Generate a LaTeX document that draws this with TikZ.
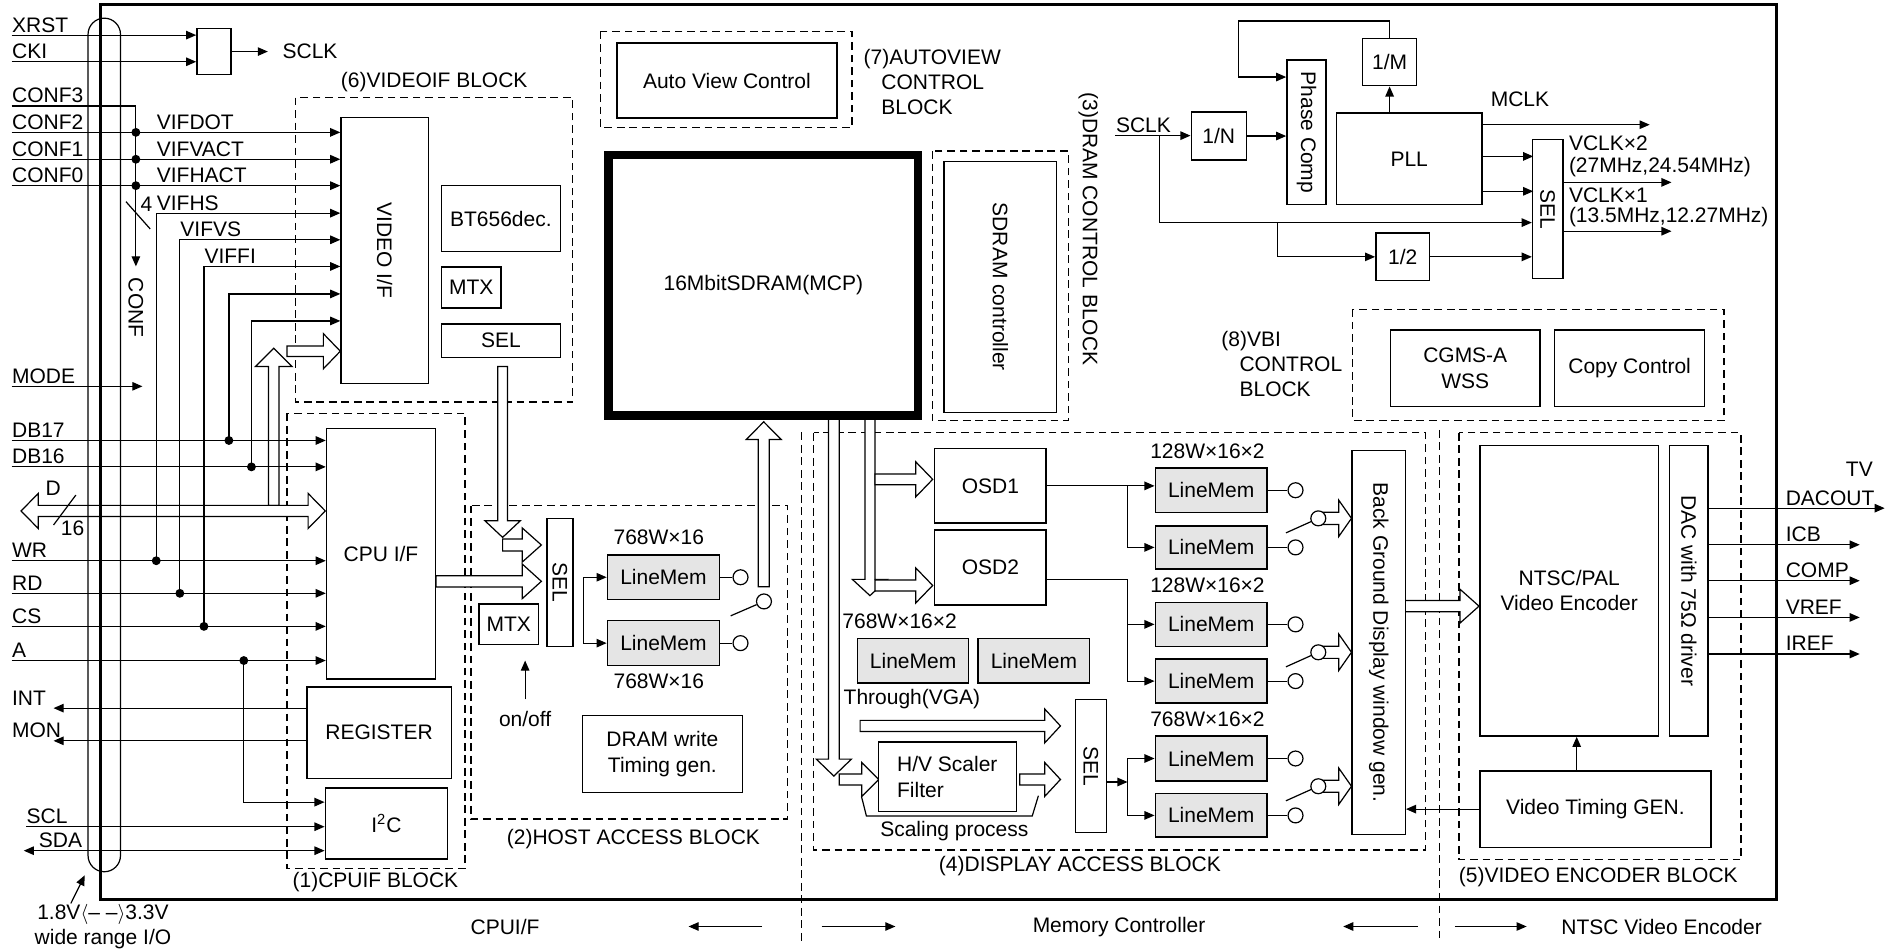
\documentclass[tikz,border=0pt]{standalone}
\usepackage{fontspec}
\setmainfont{Liberation Sans}
\usetikzlibrary{arrows.meta, calc, positioning}
\tikzset{
  % thin signal wires with small solid heads
  every picture/.append style = {line width=0.6pt, >={Triangle[length=5pt, width=4.2pt]}},
  span/.style args  = {#1/#2/#3/#4}{at={(#1,#2)}, anchor=north west,
                       minimum width={(#3-#1)*0.6pt}, minimum height={(#4-#2)*0.6pt}},
  box/.style        = {draw, line width=0.7pt, fill=white, inner sep=0pt, align=center},
  lmem/.style       = {box, fill=black!10},
  port/.style       = {circle, draw, fill=white, inner sep=0pt, minimum size=7.4pt},
  jdot/.style       = {circle, fill=black, inner sep=0pt, minimum size=4.4pt},
  sig/.style        = {anchor=south west, inner xsep=0pt, inner ysep=1.2pt, text depth=0pt},
  lbl/.style        = {inner sep=0pt, align=center},
  blockline/.style  = {line width=0.6pt, dash pattern=on 3.8pt off 2.4pt},
  fatline/.style    = {draw, fill=white, line width=0.6pt},
  % hollow bus arrow: length, head length, head half width, shaft half width
  pics/fat/.style n args = {4}{code={
    \path[fatline] (0,-#4) -- (#1-#2,-#4) -- (#1-#2,-#3) -- (#1,0)
      -- (#1-#2,#3) -- (#1-#2,#4) -- (0,#4) -- cycle;}},
}
\begin{document}
\begin{tikzpicture}[x=0.6pt, y=-0.6pt, font=\fontsize{10.4}{12.6}\selectfont]
  \useasboundingbox (0,0) rectangle (1568,786);

  % functional block outlines
  \draw[blockline] (237,341.3) rectangle (384,717);          % (1)
  \draw[blockline] (388.9,417.5) rectangle (650.4,676.2);    % (2)
  \draw[blockline] (769.7,124.7) rectangle (882,347.3);      % (3)
  \draw[blockline] (671.9,357.4) rectangle (1176.8,701.8);   % (4)
  \draw[blockline] (1204.7,357.4) rectangle (1437.5,710);    % (5)
  \draw[blockline] (244,80.6) rectangle (473,332);           % (6)
  \draw[blockline] (495.8,26) rectangle (703.4,105.4);       % (7)
  \draw[blockline] (1116.8,255.4) rectangle (1423.5,347.3);  % (8)
  \draw[blockline] (661.9,357) -- (661.9,778);
  \draw[blockline] (1188.5,355) -- (1188.5,778);

  % wide data paths
  \pic[rotate=90] at (226,417.3) {fat={129.7}{15}{15}{4.3}};
  \pic at (237,290) {fat={44}{14}{14.5}{4.3}};
  \path[fatline] (17.4,421.9) -- (31.6,407.4) -- (31.6,417.3) -- (254.4,417.3) -- (254.4,407.4)
    -- (268.6,421.9) -- (254.4,436.4) -- (254.4,426.5) -- (31.6,426.5) -- (31.6,436.4) -- cycle;
  \pic at (360,480) {fat={87}{15.7}{14.2}{4.6}};
  \pic[rotate=-90] at (415,302.7) {fat={141}{13.7}{14.6}{4}};
  \pic at (415,450) {fat={32}{15.7}{14}{5}};
  \pic[rotate=90] at (630.6,484.4) {fat={136.1}{14.6}{14.4}{4.6}};
  \pic[rotate=-90] at (688.5,345) {fat={295.8}{14}{14.5}{4.5}};
  \pic[rotate=-90] at (718.3,345) {fat={146.8}{13.4}{14.5}{4.1}};
  \pic at (722.4,395.8) {fat={47.7}{14}{14.5}{4.5}};
  \pic at (722.4,483.4) {fat={47.7}{14}{14.5}{4.5}};
  \pic at (693,643.6) {fat={32.6}{14}{14}{4.5}};
  \pic at (710.2,599.4) {fat={165.4}{13}{14}{4.6}};
  \pic at (842,643.6) {fat={33.6}{13}{14}{4.6}};
  \pic at (1159.7,500.5) {fat={61.5}{15.7}{14}{4.6}};

  % chip boundary and the I/O ring
  \draw[line width=1.5pt] (82.8,3.9) rectangle (1466.6,742.5);
  \draw (72.7,706.4) -- (72.7,28.4) arc (180:360:13.4) -- (99.5,706.4) arc (0:180:13.4) -- cycle;

  % (6) video interface
  \node[box, span=281/96.3/353/316] (vidif) {\rotatebox{-90}{VIDEO I/F}};
  \node[box, span=364/152.7/462/207] (bt656) {BT656dec.};
  \node[box, span=364/220/413/253.7] (mtxA) {MTX};
  \node[box, span=364/267/462/294.5] (selA) {SEL};
  \node[lbl] (blk6) at (358.5,67.4) {(6)VIDEOIF BLOCK};

  % (1) cpu interface
  \node[box, span=269/353/359/560] (cpu) {CPU I/F};
  \node[box, span=252.8/566.6/372/642] (reg) {REGISTER};
  \node[box, span=268/650/369/708.8] (iic) {I\textsuperscript{2}C};
  \node[lbl] (blk1) at (310,728.6) {(1)CPUIF BLOCK};

  % clock input
  \node[box, span=162/23/190/61] (ckgate) {};
  \foreach \nm/\yy in {XRST/29, CKI/51}{
    \node[sig] (\nm) at (9.5,\yy) {\nm};
    \draw[->] (\nm.south west) -- (ckgate.west |- \nm.south west);
  }
  \draw[->] (ckgate.east) -- ++(30,0) node[lbl, right=7pt] (sclkA) {SCLK};

  % configuration pins
  \coordinate (confx) at (112.2,87.5);
  \node[sig] (CONF3) at (9.5,87.5) {CONF3};
  \draw[->] (CONF3.south west) -- (confx) -- ++(0,132.5);
  \node[lbl, rotate=-90] (conflbl) at (112.2,254) {CONF};
  \foreach \nm/\yy/\sg in {CONF2/109.3/VIFDOT, CONF1/131.5/VIFVACT, CONF0/153.3/VIFHACT}{
    \node[sig] (\nm) at (9.5,\yy) {\nm};
    \draw[->] (\nm.south west) -- (vidif.west |- \nm.south west);
    \node[jdot] (j\nm) at (confx |- \nm.south west) {};
    \node[sig] (l\nm) at (129,\yy) {\sg};
  }
  \draw (104,166.5) -- (124,189);
  \node[lbl] (nconf) at (121,169) {4};
  \node[sig] (MODE) at (9.5,319) {MODE};
  \draw[->] (MODE.south west) -- ++(108.1,0);

  % host bus pins
  \foreach \nm/\yy in {DB17/363.7, DB16/385.5, WR/463, RD/489.9, CS/517.2, A/545.4}{
    \node[sig] (\nm) at (9.5,\yy) {\nm};
    \draw[->] (\nm.south west) -- (cpu.west |- \nm.south west);
  }
  \foreach \tp/\xx/\yy/\pin/\sg in {tHS/129/176/WR/VIFHS, tVS/148.5/198/RD/VIFVS,
      tFI/168.4/220/CS/VIFFI, t17/189/242.7/DB17/, t16/207.6/265/DB16/}{
    \coordinate (\tp) at (\xx,\yy);
    \node[sig] (l\tp) at (\tp) {\sg};
    \draw[->] (\pin.south west -| \tp) -- (\tp) -- (vidif.west |- \tp);
    \node[jdot] (j\tp) at (\pin.south west -| \tp) {};
  }
  \node[jdot] (jA) at (201.3,545.4) {};
  \draw[->] (jA.center) |- ([yshift=10.6pt]iic.west);
  \draw (44.2,433.5) -- (62.6,408.8);
  \node[lbl] (dbus) at (44,403) {D};
  \node[lbl] (dwid) at (60,436.4) {16};
  \foreach \nm/\yy in {INT/584.7, MON/611.7}{
    \node[sig] (\nm) at (9.5,\yy) {\nm};
    \draw[->] (reg.west |- \nm.south west) -- ($(\nm.south west)+(34.7,0)$);
  }
  \node[sig] (SCL) at (21.5,682.6) {SCL};
  \draw[->] (SCL.south west) -- (iic.west |- SCL.south west);
  \node[sig] (SDA) at (31.6,702.4) {SDA};
  \draw[<->] ($(SDA.south west)+(-12,0)$) -- (iic.west |- SDA.south west);
  \node[lbl] (io) at (85,765) {1.8V$\langle$– –$\rangle$3.3V\\wide range I/O};
  \coordinate (ioTip) at (70,722.7);
  \draw[->] ($(io.north)+(-26.5,0)$) -- (ioTip);

  % (2) host access
  \node[box, span=451/427.7/472.4/533] (selB) {\rotatebox{-90}{SEL}};
  \node[box, span=395/498.3/444/531.8] (mtxB) {MTX};
  \node[lbl] (onoff) at (433.6,593.4) {on/off};
  \draw[->] ([yshift=9.6pt]onoff.center) -- ++(0,-32);
  \node[lmem, span=500.9/457.6/593.6/494.5] (hlmA) {LineMem};
  \node[lmem, span=500.9/512/593.6/548.9] (hlmB) {LineMem};
  \node[lbl] (hszA) at (544,443.7) {768W×16};
  \node[lbl] (hszB) at (544,562.9) {768W×16};
  \draw[<->] (hlmA.west) -- ++(-19.3,0) |- (hlmB.west);
  \node[port, right=6pt of hlmA] (hpA) {};
  \node[port, right=6pt of hlmB] (hpB) {};
  \draw (hlmA) -- (hpA);
  \draw (hlmB) -- (hpB);
  \node[port] (hsw) at (630.8,496.6) {};
  \coordinate (hlev) at (603.3,508.5);
  \draw (hlev) -- (hsw);
  \node[box, span=480.3/590/612.4/653.9] (dwt) {DRAM write\\Timing gen.};
  \node[lbl] (blk2) at (523,693) {(2)HOST ACCESS BLOCK};

  % memory, (7) and (3)
  \node[draw, line width=4.2pt, inner sep=0pt, span=499/124.5/754.6/339.6] (sdram) {16MbitSDRAM(MCP)};
  \node[box, span=508.7/35/690.5/97] (avc) {Auto View Control};
  \node[lbl, anchor=west, align=left] (blk7) at (712.6,67.7)
    {(7)AUTOVIEW\\\hspace{8.8pt}CONTROL\\\hspace{8.8pt}BLOCK};
  \node[box, span=779/132.6/871.8/339.9] (sdc) {\rotatebox{-90}{SDRAM controller}};
  \node[lbl, rotate=-90] (blk3) at (898.7,189) {(3)DRAM CONTROL BLOCK};

  % clock generator
  \node[box, span=983/92/1028.4/131.5] (divn) {1/N};
  \node[box, span=1062/49/1094.4/168.4] (pcmp) {\rotatebox{-90}{Phase Comp}};
  \node[box, span=1124.6/31/1169/70.2] (divm) {1/M};
  \node[box, span=1103/92.7/1223/168.4] (pll) {PLL};
  \node[box, span=1264.8/114.8/1289.8/229.2] (selC) {\rotatebox{-90}{SEL}};
  \node[box, span=1135.4/191.8/1179.8/231.2] (div2) {1/2};
  \node[sig] (sclkB) at (921,112) {SCLK};
  \draw[->] (sclkB.south west) -- (divn.west |- sclkB.south west);
  \draw[->] (divn.east) -- (pcmp.west |- divn.east);
  \draw[->] (divm.north) -- ++(0,-13.7) -- ++(-124.8,0) |- ([yshift=27.4pt]pcmp.west);
  \draw[->] (divm.south |- pll.north) -- (divm.south);
  \draw[->] ([yshift=16.9pt]pll.east) -- ++(138,0);
  \node[lbl] (mclk) at (1255,82) {MCLK};
  \draw[->] ([yshift=1.2pt]pll.east) -- ++(41.8,0);
  \draw[->] ([yshift=-16.1pt]pll.east) -- ++(41.8,0);
  \coordinate (tapA) at (957.3,112);
  \coordinate (tapB) at (1054.7,183.8);
  \draw[->] (tapA) |- (selC.west |- tapB);
  \draw[->] (tapB) |- (div2.west);
  \draw[->] (div2.east) -- (selC.west |- div2.east);
  \draw[->] ([yshift=13.2pt]selC.east) -- ++(89.2,0);
  \draw[->] ([yshift=-11pt]selC.east) -- ++(89.2,0);
  \node[lbl, anchor=west] (vclk2) at (1295,118.3) {VCLK×2};
  \node[lbl, anchor=west] (vfrq2) at (1295,137.6) {(27MHz,24.54MHz)};
  \node[lbl, anchor=west] (vclk1) at (1295,161) {VCLK×1};
  \node[lbl, anchor=west] (vfrq1) at (1295,178.9) {(13.5MHz,12.27MHz)};

  % (8) VBI
  \node[box, span=1147.5/272/1271/335] (cgms) {CGMS-A\\WSS};
  \node[box, span=1283/272/1407/335] (copyc) {Copy Control};
  \node[lbl, anchor=west, align=left] (blk8) at (1008,300.5)
    {(8)VBI\\\hspace{9pt}CONTROL\\\hspace{9pt}BLOCK};

  % (4) display access
  \node[box, span=771.2/369.8/863.2/431.4] (osd1) {OSD1};
  \node[box, span=771.2/437/863.2/498.8] (osd2) {OSD2};
  \node[lbl] (dszC) at (742.8,512.8) {768W×16×2};
  \node[lmem, span=707.5/526.8/799.2/563.2] (lmC) {LineMem};
  \node[lmem, span=807.1/526.8/899.2/563.2] (lmD) {LineMem};
  \node[lbl] (thru) at (753,577) {Through(VGA)};
  \node[box, span=724.6/612.2/838.6/669.4, align=left] (hvs) {H/V Scaler\\Filter};
  \draw (711.3,657.6) -- (715.4,673.8) -- (852.3,673.8) -- (857.4,657);
  \node[lbl] (scp) at (788,686.2) {Scaling process};
  \node[box, span=887.2/577.2/912.9/687] (selD) {\rotatebox{-90}{SEL}};
  \foreach \i/\ya/\yb in {1/386/422.4, 2/433.6/469.2, 3/496.9/533, 4/543.6/580, 5/607.2/644.2, 6/654.8/690.6}{
    \node[lmem, span=953.3/\ya/1045.7/\yb] (lm\i) {LineMem};
    \node[port, right=9.7pt of lm\i] (po\i) {};
    \draw (lm\i) -- (po\i);
  }
  \node[lbl] (dszA) at (997,372.6) {128W×16×2};
  \node[lbl] (dszB) at (997,483.4) {128W×16×2};
  \node[lbl] (dszD) at (997,593.8) {768W×16×2};
  \coordinate (br) at (931,0);
  \draw[->] (osd1.east) -- (lm1.west |- osd1.east);
  \draw[->] (osd1.east -| br) |- (lm2.west);
  \coordinate (o2) at ([yshift=-6pt]osd2.east);
  \draw (o2) -- (o2 -| br);
  \draw[->] (o2 -| br) |- (lm3.west);
  \draw[->] (o2 -| br) |- (lm4.west);
  \coordinate (s4) at ([yshift=-7.8pt]selD.east);
  \draw[->] (s4) -- (s4 -| br);
  \draw[->] (s4 -| br) |- (lm5.west);
  \draw[->] (s4 -| br) |- (lm6.west);
  \node[box, span=1115.9/371.4/1159.7/688.4] (bgd) {\rotatebox{-90}{Back Ground Display window gen.}};
  \foreach \k/\yy in {a/428, b/538.6, c/649.2}{
    \pic at (1088.5,\yy) {fat={27.4}{10.5}{15}{5}};
    \node[port] (sw\k) at (1088.5,\yy) {};
    \coordinate (lev\k) at (1061.8,\yy+12);
    \draw (lev\k) -- (sw\k);
  }
  \node[lbl] (blk4) at (891.7,715) {(4)DISPLAY ACCESS BLOCK};

  % (5) video encoder
  \node[box, span=1221.5/367.2/1368.7/607.2] (enc) {NTSC/PAL\\Video Encoder};
  \node[box, span=1378/367.2/1409.7/607.2] (dac) {\rotatebox{-90}{DAC with 75Ω driver}};
  \node[box, span=1221.5/636/1412/699] (vtg) {Video Timing GEN.};
  \draw[->] ([xshift=3.7pt]enc.south |- vtg.north) -- ([xshift=3.7pt]enc.south);
  \draw[->] (vtg.west) -- (bgd.east |- vtg.west);
  \node[lbl, anchor=east] (tv) at (1546.8,387.4) {TV};
  \foreach \nm/\yy/\len in {DACOUT/419.6/145.3, ICB/449.8/124.7, COMP/479.5/124.7, VREF/509.8/124.7, IREF/540/124.7}{
    \node[sig] (\nm) at (1474,\yy) {\nm};
    \draw[->] (dac.east |- \nm.south west) -- ++(\len,0);
  }
  \node[lbl] (blk5) at (1319.7,724.2) {(5)VIDEO ENCODER BLOCK};

  % partition captions
  \node[lbl] (cpuif) at (417,765) {CPUI/F};
  \node[lbl] (memc) at (924,765.4) {Memory Controller};
  \node[lbl] (ntscv) at (1372,765.4) {NTSC Video Encoder};
  \coordinate (sepA) at (661.9,765);
  \coordinate (sepB) at (1188.5,765);
  \draw[->] ([xshift=-19.6pt]sepA) -- ++(-60.7,0);
  \draw[->] ([xshift=9.9pt]sepA) -- ++(60.9,0);
  \draw[->] ([xshift=-10.7pt]sepB) -- ++(-61.6,0);
  \draw[->] ([xshift=7.7pt]sepB) -- ++(59.2,0);
\end{tikzpicture}
\end{document}
